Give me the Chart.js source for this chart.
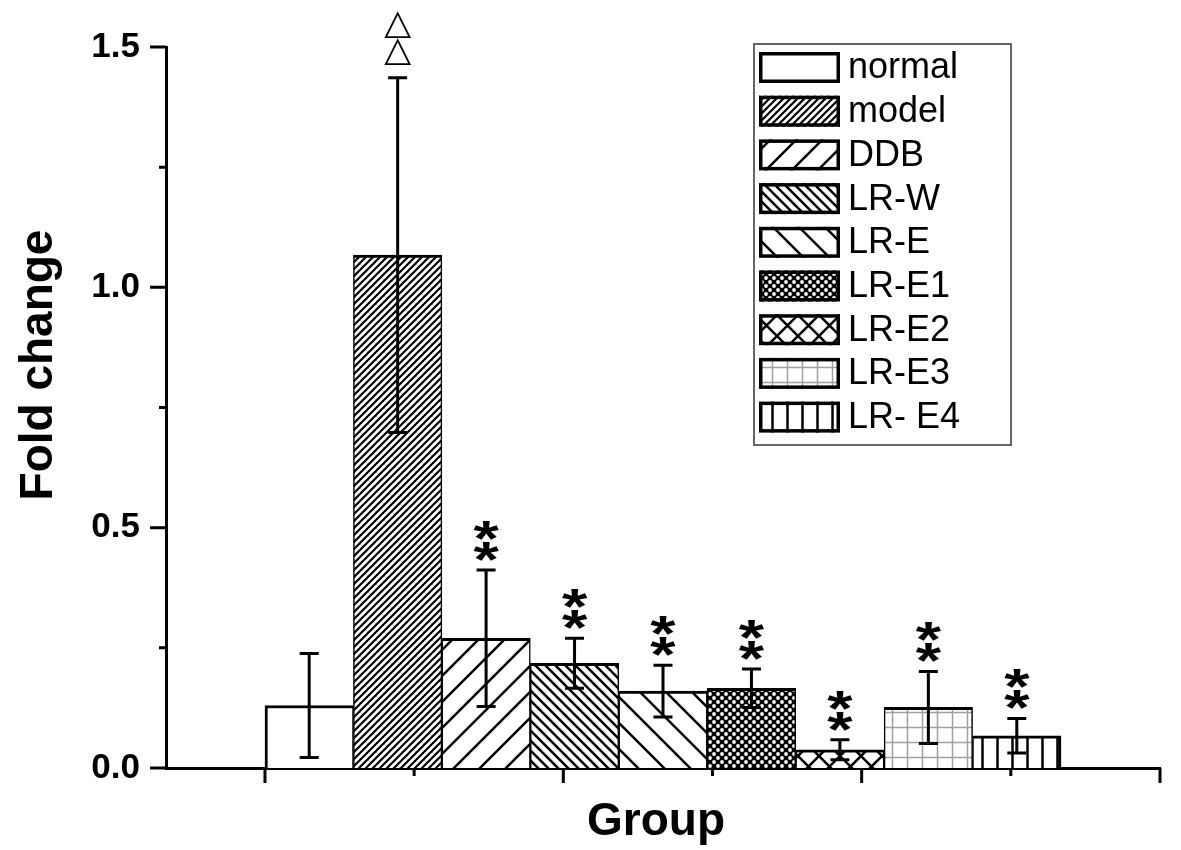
<!DOCTYPE html>
<html>
<head>
<meta charset="utf-8">
<title>Fold change by group</title>
<script src="https://cdn.jsdelivr.net/npm/chart.js"></script>
<style>
  html, body { margin: 0; padding: 0; background: #fff; }
  #wrap { width: 1181px; height: 850px; position: relative; }
</style>
</head>
<body>
<div id="wrap"><canvas id="myChart"></canvas></div>
<script>
// data
const groups = ['normal', 'model', 'DDB', 'LR-W', 'LR-E', 'LR-E1', 'LR-E2', 'LR-E3', 'LR- E4'];
const foldChange = [0.130, 1.067, 0.270, 0.218, 0.160, 0.166, 0.038, 0.126, 0.067];
const errors = [0.108, 0.369, 0.142, 0.052, 0.054, 0.040, 0.021, 0.075, 0.036];
const marks = ['', '\u25B3\u25B3', '**', '**', '**', '**', '**', '**', '**'];
const yTicks = [0, 0.5, 1.0, 1.5];
const yMinorTicks = [0.25, 0.75, 1.25];

const X_MIN = -1.619;
const X_MAX = 9.619;
const FONT = "'Liberation Sans', Arial, Helvetica, sans-serif";

// x axis ticks: long and short, evenly spaced from the first bar edge to the axis end
const xTickStep = (X_MAX + 0.5) / 6;
const xTickValues = [0, 1, 2, 3, 4, 5, 6].map(k => -0.5 + k * xTickStep);

function makePattern(kind) {
    const c = document.createElement('canvas');
    let s = 8;
    if (kind == 'model') s = 7;
    if (kind == 'DDB' || kind == 'LR-E') s = 26;
    if (kind == 'LR-W') s = 10;
    if (kind == 'LR-E2') s = 21;
    if (kind == 'LR-E3' || kind == 'LR- E4') s = 15;
    c.width = s;
    c.height = s;
    const g = c.getContext('2d');
    g.fillStyle = '#fff';
    g.fillRect(0, 0, s, s);
    g.strokeStyle = '#000';
    g.lineCap = 'square';

    const forward = () => {
        for (let k = -1; k <= 1; k++) {
            g.moveTo(k * s, s);
            g.lineTo(k * s + s, 0);
        }
    };
    const back = () => {
        for (let k = -1; k <= 1; k++) {
            g.moveTo(k * s, 0);
            g.lineTo(k * s + s, s);
        }
    };

    g.beginPath();
    if (kind == 'model') { g.lineWidth = 2.2; forward(); }
    if (kind == 'DDB') { g.lineWidth = 2.5; forward(); }
    if (kind == 'LR-W') { g.lineWidth = 2.5; back(); }
    if (kind == 'LR-E') { g.lineWidth = 2.5; back(); }
    if (kind == 'LR-E2') { g.lineWidth = 2.5; forward(); back(); }
    if (kind == 'LR- E4') {
        g.lineWidth = 2.5;
        g.moveTo(s / 2, 0);
        g.lineTo(s / 2, s);
    }
    g.stroke();

    if (kind == 'LR-E3') {
        g.strokeStyle = '#a0a0a0';
        g.lineWidth = 1.5;
        g.beginPath();
        g.moveTo(s / 2, 0); g.lineTo(s / 2, s);
        g.moveTo(0, s / 2); g.lineTo(s, s / 2);
        g.stroke();
    }
    if (kind == 'LR-E1') {
        g.fillStyle = '#000';
        g.fillRect(0, 0, s, s);
        g.fillStyle = '#fff';
        [[2, 2], [6, 6]].forEach(p => {
            g.beginPath();
            g.arc(p[0], p[1], 1.9, 0, Math.PI * 2);
            g.fill();
        });
    }
    if (kind == 'normal') return '#fff';
    return g.createPattern(c, 'repeat');
}

const patterns = groups.map(g => makePattern(g));

const axisExtras = {
    id: 'axisExtras',
    afterDatasetsDraw(chart) {
        const ctx = chart.ctx;
        const x = chart.scales.x;
        const y = chart.scales.y;
        ctx.save();
        ctx.strokeStyle = '#000';
        ctx.fillStyle = '#000';
        ctx.lineWidth = 3;

        // error bars
        foldChange.forEach((v, i) => {
            const px = x.getPixelForValue(i);
            const top = y.getPixelForValue(v + errors[i]);
            const bot = y.getPixelForValue(v - errors[i]);
            ctx.beginPath();
            ctx.moveTo(px, top);
            ctx.lineTo(px, bot);
            ctx.moveTo(px - 9.5, top);
            ctx.lineTo(px + 9.5, top);
            ctx.moveTo(px - 9.5, bot);
            ctx.lineTo(px + 9.5, bot);
            ctx.stroke();
        });

        // significance marks stacked above the error caps
        foldChange.forEach((v, i) => {
            const chars = Array.from(marks[i]);
            if (!chars.length) return;
            const px = x.getPixelForValue(i);
            const top = y.getPixelForValue(v + errors[i]);
            const tri = chars[0] == '\u25B3';
            ctx.font = tri ? "35px 'DejaVu Sans'" : 'bold 50px ' + FONT;
            ctx.textAlign = 'center';
            ctx.textBaseline = 'alphabetic';
            const m = ctx.measureText(chars[0]);
            const h = m.actualBoundingBoxAscent + m.actualBoundingBoxDescent;
            const sx = tri ? 1 : 1.3;
            const gap = tri ? 12 : 9;
            const pitch = tri ? 27 : 21;
            chars.forEach((ch, k) => {
                const cy = top - gap - h / 2 - k * pitch;
                const by = cy + (m.actualBoundingBoxAscent - m.actualBoundingBoxDescent) / 2;
                ctx.save();
                ctx.translate(px, by);
                ctx.scale(sx, 1);
                ctx.fillText(ch, 0, 0);
                ctx.restore();
            });
        });
        ctx.restore();
    },
    afterDraw(chart) {
        const ctx = chart.ctx;
        const x = chart.scales.x;
        const y = chart.scales.y;
        const area = chart.chartArea;
        ctx.save();
        ctx.strokeStyle = '#000';
        ctx.lineWidth = 3;

        // y ticks (outward)
        ctx.beginPath();
        yTicks.forEach(v => {
            const py = y.getPixelForValue(v);
            ctx.moveTo(area.left - 16, py);
            ctx.lineTo(area.left, py);
        });
        yMinorTicks.forEach(v => {
            const py = y.getPixelForValue(v);
            ctx.moveTo(area.left - 7, py);
            ctx.lineTo(area.left, py);
        });
        // x ticks (outward)
        xTickValues.forEach((v, k) => {
            const px = x.getPixelForValue(v);
            ctx.moveTo(px, area.bottom);
            ctx.lineTo(px, area.bottom + (k % 2 == 0 ? 15 : 8));
        });
        ctx.stroke();

        // axis titles
        ctx.fillStyle = '#000';
        ctx.font = 'bold 46px ' + FONT;
        ctx.textAlign = 'center';
        ctx.textBaseline = 'alphabetic';
        ctx.fillText('Group', 656, 835);
        ctx.save();
        ctx.translate(52, 365);
        ctx.rotate(-Math.PI / 2);
        ctx.fillText('Fold change', 0, 0);
        ctx.restore();

        // legend box inside the plot
        const L = { left: 754, top: 44, right: 1011, bottom: 445, sx: 759, sy: 52, sw: 81, sh: 31, pitch: 43.7, tx: 848 };
        ctx.fillStyle = '#fff';
        ctx.fillRect(L.left, L.top, L.right - L.left, L.bottom - L.top);
        ctx.strokeStyle = '#666';
        ctx.lineWidth = 2;
        ctx.strokeRect(L.left, L.top, L.right - L.left, L.bottom - L.top);
        groups.forEach((g, i) => {
            const sy = L.sy + i * L.pitch;
            ctx.fillStyle = patterns[i];
            ctx.fillRect(L.sx, sy, L.sw, L.sh);
            ctx.strokeStyle = '#000';
            ctx.lineWidth = 3.5;
            ctx.strokeRect(L.sx + 1.75, sy + 1.75, L.sw - 3.5, L.sh - 3.5);
            ctx.fillStyle = '#000';
            ctx.font = '36px ' + FONT;
            ctx.textAlign = 'left';
            ctx.textBaseline = 'middle';
            ctx.fillText(g, L.tx, sy + L.sh / 2 + 1);
        });
        ctx.restore();
    }
};

function buildGraphic() {
    const ctx = document.getElementById('myChart').getContext('2d');

    const datasets = groups.map((g, i) => ({
        label: g,
        data: [{ x: i, y: foldChange[i] }],
        backgroundColor: patterns[i],
        borderColor: '#000',
        borderWidth: { top: 3, left: i == 0 ? 3 : 1.5, right: i == groups.length - 1 ? 3 : 1.5, bottom: 0 },
        borderSkipped: false,
        grouped: false,
        barPercentage: 1,
        categoryPercentage: 1
    }));

    const config = {
        type: 'bar',
        data: { datasets: datasets },
        plugins: [axisExtras],
        options: {
            responsive: true,
            maintainAspectRatio: false,
            animation: false,
            layout: {
                padding: { top: 37, right: 21, left: 0, bottom: 0 }
            },
            plugins: {
                legend: { display: false },
                tooltip: { enabled: false }
            },
            scales: {
                x: {
                    type: 'linear',
                    offset: false,
                    min: X_MIN,
                    max: X_MAX,
                    afterBuildTicks: s => { s.ticks = xTickValues.map(v => ({ value: v })); },
                    afterFit: s => { s.height = 82; },
                    grid: { display: false, drawTicks: false },
                    border: { display: true, color: '#000', width: 3 },
                    ticks: { display: false }
                },
                y: {
                    min: 0,
                    max: 1.5,
                    afterFit: s => { s.width = 166; },
                    afterBuildTicks: s => { s.ticks = yTicks.map(v => ({ value: v })); },
                    grid: { display: false, drawTicks: false },
                    border: { display: true, color: '#000', width: 3 },
                    ticks: {
                        padding: 26,
                        color: '#000',
                        font: { family: FONT, size: 35, weight: 'bold' },
                        callback: v => Number(v).toFixed(1)
                    }
                }
            }
        }
    };

    const myChart = new Chart(ctx, config);
}

buildGraphic();
</script>
</body>
</html>
